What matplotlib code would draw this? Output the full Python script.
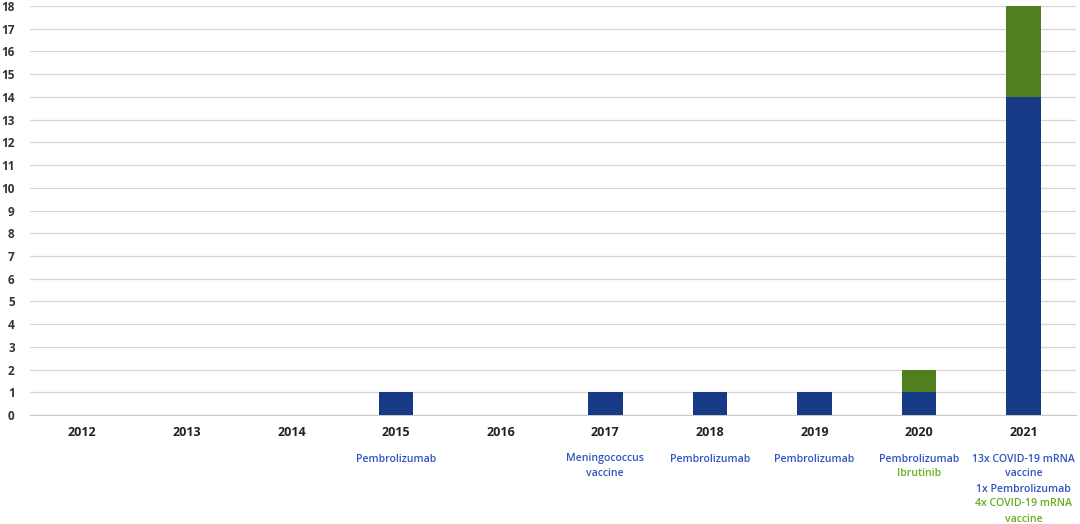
import numpy as np
import matplotlib.pyplot as plt
from matplotlib.transforms import blended_transform_factory

# Data
years = ['2012', '2013', '2014', '2015', '2016', '2017', '2018', '2019', '2020', '2021']
blue_counts = [0, 0, 0, 1, 0, 1, 1, 1, 1, 14]
green_counts = [0, 0, 0, 0, 0, 0, 0, 0, 1, 4]
blue_labels = ['', '', '', 'Pembrolizumab', '', 'Meningococcus\nvaccine', 'Pembrolizumab',
               'Pembrolizumab', 'Pembrolizumab', '13x COVID-19 mRNA\nvaccine\n1x Pembrolizumab']
green_labels = ['', '', '', '', '', '', '', '', 'Ibrutinib', '4x COVID-19 mRNA\nvaccine']

blue = '#173a87'
green = '#4f7f1f'
blue_txt = '#2f55bf'
green_txt = '#66ad22'

fig = plt.figure(figsize=(10.8, 5.24), dpi=100)
ax = fig.add_axes([30 / 1080, 1 - 415 / 524, 1046 / 1080, 409 / 524])

x = np.arange(len(years))
ax.bar(x, blue_counts, width=0.33, color=blue, zorder=3)
ax.bar(x, green_counts, width=0.33, bottom=blue_counts, color=green, zorder=3)

ax.set_xlim(-0.5, len(years) - 0.5)
ax.set_ylim(0, 18)
ax.set_yticks(range(0, 19))
ax.yaxis.grid(True, color='#d6d6d6', linewidth=0.9, zorder=0)
for s in ['top', 'right', 'left']:
    ax.spines[s].set_visible(False)
ax.spines['bottom'].set_color('#c8c8c8')
ax.tick_params(axis='both', length=0)
ax.set_xticks(x)
ax.set_xticklabels([])
for lbl in ax.get_yticklabels():
    lbl.set_fontweight('bold')
    lbl.set_fontsize(8.5)
    lbl.set_color('#333333')
    lbl.set_family('Open Sans')
ax.tick_params(axis='y', pad=11)

trans = blended_transform_factory(ax.transData, ax.transAxes)
px = 1 / 409  # one pixel in axes units
for i, yr in enumerate(years):
    ax.text(i, -18 * px, yr, transform=trans, ha='center', va='center',
            fontsize=9, fontweight='bold', color='#222222', family='Open Sans')
    lines = []
    if blue_labels[i]:
        lines += [(t, blue_txt) for t in blue_labels[i].split('\n')]
    if green_labels[i]:
        lines += [(t, green_txt) for t in green_labels[i].split('\n')]
    for j, (t, c) in enumerate(lines):
        ax.text(i, -(44 + 15 * j) * px, t, transform=trans, ha='center', va='center',
                fontsize=7.6, fontweight='semibold', color=c, family='Open Sans')

fig.savefig('out.png', dpi=100)
